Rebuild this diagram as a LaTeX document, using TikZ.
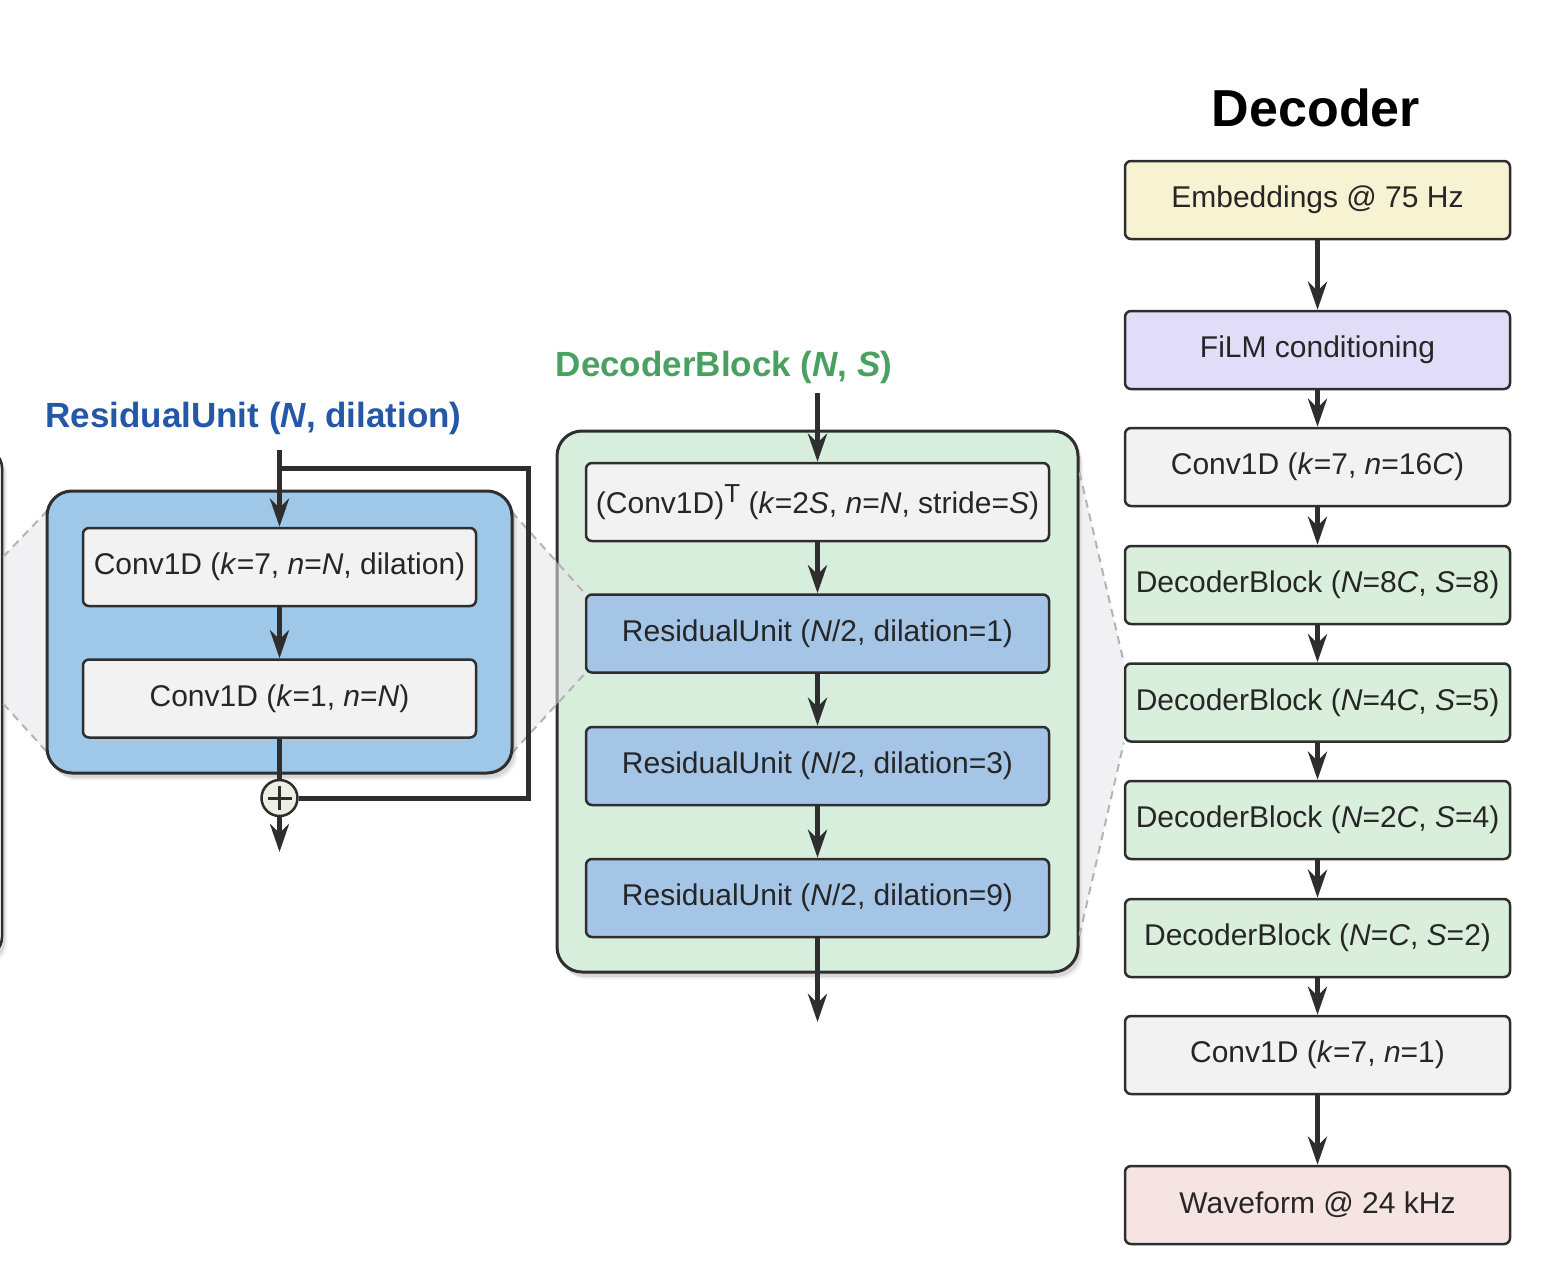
\documentclass[tikz,border=0pt]{standalone}
\usepackage{fontspec}
\setmainfont{Liberation Sans}
\usetikzlibrary{arrows.meta,shadows,calc}
\definecolor{linec}{HTML}{2E2E2E}
\definecolor{txt}{HTML}{262626}
\definecolor{bluecont}{HTML}{9FC7E7}
\definecolor{bluebox}{HTML}{A4C5E5}
\definecolor{convgray}{HTML}{F2F2F2}
\definecolor{greencont}{HTML}{D8EEDD}
\definecolor{greenbox}{HTML}{D9EEDB}
\definecolor{embedc}{HTML}{F7F2D2}
\definecolor{filmc}{HTML}{E1DCF8}
\definecolor{wavec}{HTML}{F6E4E3}
\definecolor{titleblue}{HTML}{2457A6}
\definecolor{titlegreen}{HTML}{4AA060}
\definecolor{zoomfill}{HTML}{E6E6EA}
\definecolor{zoomline}{HTML}{B4B4B4}
\definecolor{plusfill}{HTML}{EEEDE6}
\begin{document}
\begin{tikzpicture}[x=1pt,y=-1pt,
  stepbox/.style={draw=linec, line width=2.5pt, rounded corners=6pt, minimum height=78pt,
    inner sep=0pt, text=txt, font=\fontsize{30}{36}\selectfont},
  colbox/.style={stepbox, minimum width=385pt},
  softshadow/.style={drop shadow={shadow xshift=3pt, shadow yshift=-5pt, opacity=0.10, fill=black},
    drop shadow={shadow xshift=5pt, shadow yshift=-7pt, opacity=0.06, fill=black}},
  container/.style={draw=linec, line width=3pt, rounded corners=25pt, inner sep=0pt, softshadow},
  arr/.style={draw=linec, line width=5pt, -{Stealth[length=28pt,width=19pt,inset=9pt]}},
  plain/.style={draw=linec, line width=5pt},
  zoomarea/.style={fill=zoomfill, fill opacity=0.55, draw=none},
  zoomedge/.style={draw=zoomline, line width=2pt, dash pattern=on 8pt off 6pt},
  ttl/.style={font=\bfseries\fontsize{35}{40}\selectfont, inner sep=0pt}
]
\useasboundingbox (0,0) rectangle (1546,1270);
\clip (0,0) rectangle (1546,1270);
\fill[white] (0,0) rectangle (1546,1270);

% cut-off block at the left edge
\node[draw=linec, line width=2.5pt, fill=white, rounded corners=20pt, minimum width=200pt,
  minimum height=509pt, inner sep=0pt, softshadow]
  (encl) at (-98,702.5) {};

% DecoderBlock container
\node[container, fill=greencont, minimum width=521pt, minimum height=541pt] (dbc) at (817.5,701.5) {};

% zoom areas
\coordinate (lz1) at ($(encl.north east)+(0,110)$);
\coordinate (lz2) at ($(encl.north east)+(0,257)$);
\coordinate (ruNW) at (47,511);
\coordinate (ruSW) at (47,752);
\coordinate (ruNE) at (512,512);
\coordinate (ruSE) at (512,753);
\coordinate (dz1) at ($(dbc.north east)+(0,43)$);
\coordinate (dz2) at ($(dbc.south east)+(0,-38)$);

\node[stepbox, fill=bluebox, minimum width=463pt] (r1) at (817.5,633.5)
  {ResidualUnit (\textit{N}/2, dilation=1)};
\node[colbox, fill=greenbox] (db4) at (1317.5,702.5)
  {DecoderBlock (\textit{N}=4\textit{C}, \textit{S}=5)};

\path[zoomarea] (lz1) -- (ruNW) -- (ruSW) -- (lz2) -- cycle;
\path[zoomarea] (ruNE) -- (r1.north west) -- (r1.south west) -- (ruSE) -- cycle;
\path[zoomarea] (dz1) -- (db4.north west) -- (db4.south west) -- (dz2) -- cycle;
\draw[zoomedge] (lz1) -- (ruNW);
\draw[zoomedge] (lz2) -- (ruSW);
\draw[zoomedge] (ruNE) -- (r1.north west);
\draw[zoomedge] (ruSE) -- (r1.south west);
\draw[zoomedge] (dz1) -- (db4.north west);
\draw[zoomedge] (dz2) -- (db4.south west);

% ResidualUnit container
\node[container, fill=bluecont, minimum width=465pt, minimum height=282pt] (ruc) at (279.5,632) {};

% ---------- ResidualUnit ----------
\node[ttl, text=titleblue] (rutitle) at (253.5,418) {ResidualUnit (\textit{N}, dilation)};
\node[stepbox, fill=convgray, minimum width=393pt] (c1) at (279.5,567)
  {Conv1D (\textit{k}=7, \textit{n}=\textit{N}, dilation)};
\node[stepbox, fill=convgray, minimum width=393pt] (c2) at (279.5,698.5)
  {Conv1D (\textit{k}=1, \textit{n}=\textit{N})};

\coordinate (ruin) at (279.5,450);
\coordinate (skl) at (279.5,468);
\coordinate (skr) at (528,468);
\coordinate (ruout) at (279.5,852);
\node[circle, draw=linec, line width=2.5pt, fill=plusfill,
  minimum size=36pt, inner sep=0pt] (plus) at (279.5,798) {};
\draw[arr] (ruin) -- (c1.north);
\draw[plain, line join=miter] (skl) -- (skr) |- (plus.east);
\draw[arr] (c1) -- (c2);
\draw[plain] (c2) -- (plus);
\draw[arr] (plus) -- (ruout);
\draw[linec, line width=3pt] ($(plus.center)+(-12,0)$) -- ($(plus.center)+(12,0)$);
\draw[linec, line width=3pt] ($(plus.center)+(0,-12)$) -- ($(plus.center)+(0,12)$);

% ---------- DecoderBlock ----------
\node[ttl, text=titlegreen] (dbtitle) at (724,367) {DecoderBlock (\textit{N}, \textit{S})};
\node[stepbox, fill=convgray, minimum width=463pt] (ct) at (817.5,502)
  {(Conv1D)\raisebox{0.36em}{\fontsize{26}{26}\selectfont T} (\textit{k}=2\textit{S}, \textit{n}=\textit{N}, stride=\textit{S})};
\node[stepbox, fill=bluebox, minimum width=463pt] (r3) at (817.5,766)
  {ResidualUnit (\textit{N}/2, dilation=3)};
\node[stepbox, fill=bluebox, minimum width=463pt] (r9) at (817.5,898)
  {ResidualUnit (\textit{N}/2, dilation=9)};
\coordinate (dbin) at (817.5,393);
\coordinate (dbout) at (817.5,1022);
\draw[arr] (dbin) -- (ct.north);
\draw[arr] (ct) -- (r1);
\draw[arr] (r1) -- (r3);
\draw[arr] (r3) -- (r9);
\draw[arr] (r9) -- (dbout);

% ---------- Decoder column ----------
\node[font=\bfseries\fontsize{52}{58}\selectfont, inner sep=0pt] (dectitle) at (1316,108) {Decoder};
\node[colbox, fill=embedc] (emb) at (1317.5,200) {Embeddings @ 75 Hz};
\node[colbox, fill=filmc] (film) at (1317.5,350) {FiLM conditioning};
\node[colbox, fill=convgray] (cin) at (1317.5,467) {Conv1D (\textit{k}=7, \textit{n}=16\textit{C})};
\node[colbox, fill=greenbox] (db8) at (1317.5,585) {DecoderBlock (\textit{N}=8\textit{C}, \textit{S}=8)};
\node[colbox, fill=greenbox] (db2) at (1317.5,820) {DecoderBlock (\textit{N}=2\textit{C}, \textit{S}=4)};
\node[colbox, fill=greenbox] (db1) at (1317.5,938) {DecoderBlock (\textit{N}=\textit{C}, \textit{S}=2)};
\node[colbox, fill=convgray] (cout) at (1317.5,1055) {Conv1D (\textit{k}=7, \textit{n}=1)};
\node[colbox, fill=wavec] (wave) at (1317.5,1205) {Waveform @ 24 kHz};
\draw[arr] (emb) -- (film);
\draw[arr] (film) -- (cin);
\draw[arr] (cin) -- (db8);
\draw[arr] (db8) -- (db4);
\draw[arr] (db4) -- (db2);
\draw[arr] (db2) -- (db1);
\draw[arr] (db1) -- (cout);
\draw[arr] (cout) -- (wave);
\end{tikzpicture}
\end{document}
